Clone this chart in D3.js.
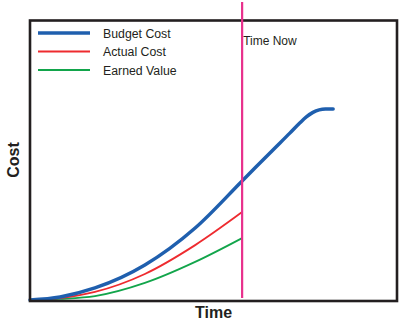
<!DOCTYPE html>
<html>
<head>
<meta charset="utf-8">
<script src="https://cdn.jsdelivr.net/npm/d3@7"></script>
<style>
html,body{margin:0;padding:0;background:#fff;}
svg{display:block;}
text{font-family:"Liberation Sans",Arial,sans-serif;fill:#231f20;}
</style>
</head>
<body>
<script>
// Data (time and cost in arbitrary units, 0..100)
const budgetTime = [0, 8.2, 17.7, 31.3, 45, 57.8, 66.2, 70.8, 73.5, 75.3, 77.1, 78.8, 80.5, 82.6];
const budgetCost = [0, 1.1, 4.3, 12.5, 25.7, 42.5, 53.6, 59.6, 63.2, 65.4, 67.0, 67.9, 68.2, 68.2];
const actualTime = [0, 8.2, 17.7, 31.3, 45, 57.8];
const actualCost = [0, 0.7, 2.9, 9.3, 19.6, 31.4];
const earnedTime = [0, 8.2, 17.7, 31.3, 45, 57.8];
const earnedCost = [0, 0.4, 1.4, 6.1, 13.6, 22.1];
const timeNow = 57.8;
const seriesNames = ["Budget Cost", "Actual Cost", "Earned Value"];
const seriesColors = ["#1f5fae", "#ee2b2f", "#12a54b"];

const W = 419, H = 326;
const svg = d3.select("body").append("svg").attr("width", W).attr("height", H);

const x = d3.scaleLinear().domain([0, 100]).range([30, 397]);
const y = d3.scaleLinear().domain([0, 100]).range([300, 20]);

const line = d3.line().x(d => x(d[0])).y(d => y(d[1])).curve(d3.curveMonotoneX);

const series = [
  {pts: d3.zip(budgetTime, budgetCost), w: 3.5},
  {pts: d3.zip(actualTime, actualCost), w: 1.8},
  {pts: d3.zip(earnedTime, earnedCost), w: 1.8}
];

// curves (draw green, red, then blue on top)
[2, 1, 0].forEach(i => {
  svg.append("path")
    .attr("d", line(series[i].pts))
    .attr("fill", "none")
    .attr("stroke", seriesColors[i])
    .attr("stroke-width", series[i].w)
    .attr("stroke-linecap", "round");
});

// frame
svg.append("rect")
  .attr("x", x(0)).attr("y", y(100) + 0.5)
  .attr("width", x(100) - x(0)).attr("height", y(0) - y(100) + 0.5)
  .attr("fill", "none").attr("stroke", "#231f20").attr("stroke-width", 2.6);

// time now line
svg.append("line")
  .attr("x1", x(timeNow)).attr("x2", x(timeNow))
  .attr("y1", 2).attr("y2", 298)
  .attr("stroke", "#e8308c").attr("stroke-width", 2.2);

svg.append("text")
  .attr("x", x(timeNow) + 1).attr("y", 45)
  .attr("font-size", 12)
  .text("Time Now");

// legend
const legY = [33, 51.5, 70];
seriesNames.forEach((n, i) => {
  svg.append("line")
    .attr("x1", 38).attr("x2", 90)
    .attr("y1", legY[i]).attr("y2", legY[i])
    .attr("stroke", seriesColors[i])
    .attr("stroke-width", i === 0 ? 3.5 : 2.2);
  svg.append("text")
    .attr("x", 103).attr("y", legY[i] + 4.5)
    .attr("font-size", 12.3)
    .text(n);
});

// axis titles
svg.append("text")
  .attr("x", (x(0) + x(100)) / 2).attr("y", 318)
  .attr("text-anchor", "middle")
  .attr("font-size", 16).attr("font-weight", "bold")
  .text("Time");

svg.append("text")
  .attr("transform", "translate(19,160) rotate(-90)")
  .attr("text-anchor", "middle")
  .attr("font-size", 16).attr("font-weight", "bold")
  .text("Cost");
</script>
</body>
</html>
